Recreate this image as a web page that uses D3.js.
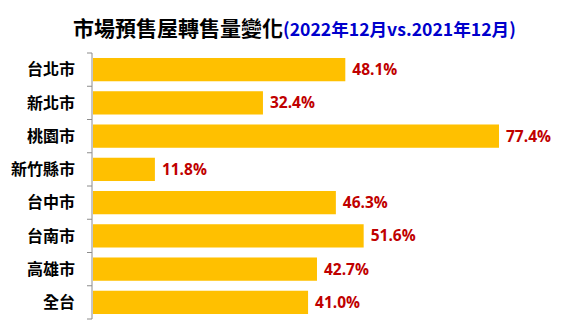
<!DOCTYPE html>
<html>
<head>
<meta charset="utf-8">
<script src="https://cdn.jsdelivr.net/npm/d3@7"></script>
<style>
  body { margin: 0; background: #fff; }
  svg { display: block; }
</style>
</head>
<body>
<div id="chart"></div>
<script>
// data
var cities = ["台北市", "新北市", "桃園市", "新竹縣市", "台中市", "台南市", "高雄市", "全台"];
var changes = [48.1, 32.4, 77.4, 11.8, 46.3, 51.6, 42.7, 41.0];

var W = 571, H = 325;
var margin = {top: 53, left: 92, right: 40, bottom: 6};

var svg = d3.select("#chart").append("svg")
    .attr("width", W)
    .attr("height", H);

// title
var title = svg.append("text")
    .attr("x", 73)
    .attr("y", 36)
    .style("font-family", "'Noto Sans CJK TC', sans-serif")
    .style("font-weight", "bold");
title.append("tspan")
    .attr("fill", "#000")
    .style("font-size", "21px")
    .text("市場預售屋轉售量變化");
title.append("tspan")
    .attr("fill", "#0000CC")
    .style("font-size", "17.6px")
    .text("(2022年12月vs.2021年12月)");

var y = d3.scaleBand()
    .domain(cities)
    .range([margin.top, 319])
    .paddingInner(0.3)
    .paddingOuter(0.15);

var x = d3.scaleLinear()
    .domain([0, 77.4])
    .range([margin.left + 1, 499]);

// bars
svg.selectAll("rect.bar")
    .data(cities)
    .enter().append("rect")
    .attr("class", "bar")
    .attr("x", x(0))
    .attr("y", d => y(d))
    .attr("width", (d, i) => x(changes[i]) - x(0))
    .attr("height", y.bandwidth())
    .attr("fill", "#FFC000");

// value labels
svg.selectAll("text.val")
    .data(cities)
    .enter().append("text")
    .attr("class", "val")
    .attr("x", (d, i) => x(changes[i]) + 7)
    .attr("y", d => y(d) + y.bandwidth() / 2)
    .attr("dy", "0.36em")
    .attr("fill", "#C00000")
    .style("font-family", "'Open Sans', sans-serif")
    .style("font-weight", "bold")
    .style("font-size", "15.5px")
    .text((d, i) => changes[i].toFixed(1) + "%");

// category axis
var step = y.step();
var axisG = svg.append("g")
    .attr("transform", "translate(" + margin.left + ",0)");
axisG.append("line")
    .attr("x1", 0).attr("x2", 0)
    .attr("y1", margin.top).attr("y2", 319)
    .attr("stroke", "#8c8c8c")
    .attr("stroke-width", 1);
// tick marks between categories
var tickYs = cities.map(d => y(d) - (step - y.bandwidth()) / 2);
tickYs.push(319);
axisG.selectAll("line.tick")
    .data(tickYs)
    .enter().append("line")
    .attr("class", "tick")
    .attr("x1", -5).attr("x2", 0)
    .attr("y1", d => d).attr("y2", d => d)
    .attr("stroke", "#8c8c8c");

axisG.selectAll("text.cat")
    .data(cities)
    .enter().append("text")
    .attr("class", "cat")
    .attr("x", -17)
    .attr("y", d => y(d) + y.bandwidth() / 2)
    .attr("dy", "0.36em")
    .attr("text-anchor", "end")
    .attr("fill", "#000")
    .style("font-family", "'Noto Sans CJK TC', sans-serif")
    .style("font-weight", "bold")
    .style("font-size", "16px")
    .text(d => d);
</script>
</body>
</html>
